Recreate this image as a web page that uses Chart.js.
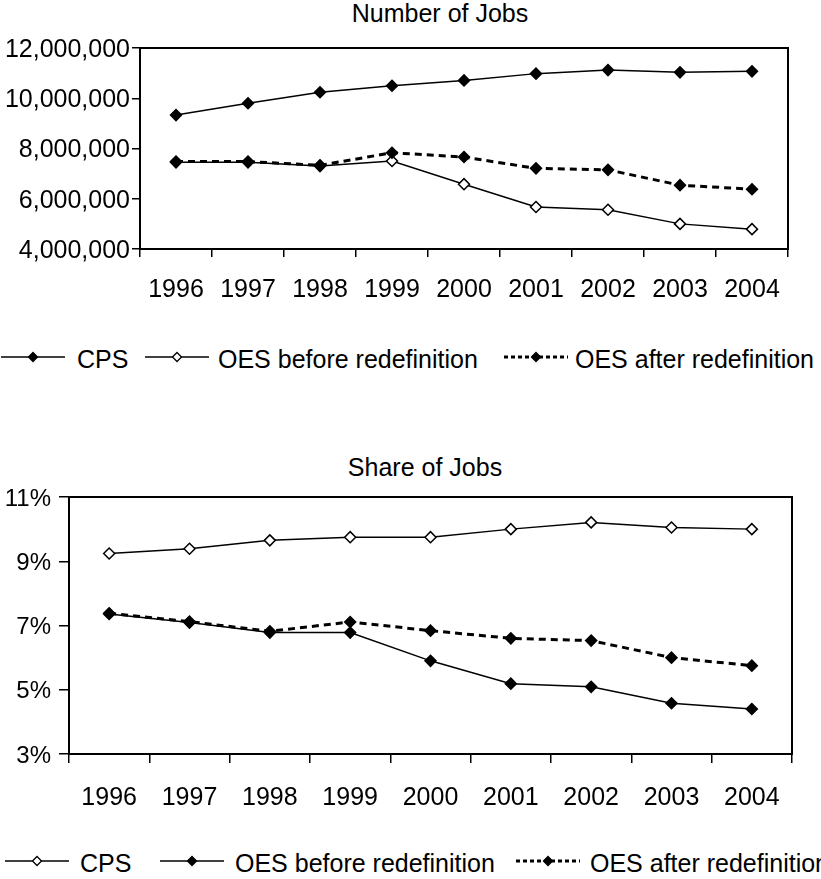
<!DOCTYPE html>
<html><head><meta charset="utf-8">
<script src="https://cdn.jsdelivr.net/npm/chart.js@4.4.0/dist/chart.umd.min.js"></script>
<style>
html,body{margin:0;padding:0;background:#fff;width:821px;height:879px;overflow:hidden;font-family:"Liberation Sans",Arial,sans-serif;color:#000;}
canvas{position:absolute;left:0;}
.title{position:absolute;font-size:25px;line-height:25px;white-space:nowrap;transform:translateX(-50%);}
.ltxt{position:absolute;font-size:25px;line-height:25px;white-space:nowrap;}
.lsym{position:absolute;}
</style></head>
<body>
<div class="title" style="left:440px;top:1px;">Number of Jobs</div>
<canvas id="c1" width="821" height="320" style="top:0px"></canvas>
<div id="leg1"></div>
<div class="title" style="left:425px;top:455px;">Share of Jobs</div>
<canvas id="c2" width="821" height="390" style="top:440px"></canvas>
<div id="leg2"></div>
<script>
const years = ['1996','1997','1998','1999','2000','2001','2002','2003','2004'];
// Number of Jobs
const jobsCPS       = [9330000, 9800000, 10240000, 10500000, 10710000, 10980000, 11120000, 11030000, 11070000];
const jobsOESBefore = [7450000, 7450000, 7300000, 7500000, 6580000, 5670000, 5560000, 5000000, 4790000];
const jobsOESAfter  = [7480000, 7480000, 7330000, 7830000, 7660000, 7210000, 7150000, 6540000, 6380000];
// Share of Jobs (%)
const shareCPS       = [9.24, 9.39, 9.65, 9.75, 9.75, 10.00, 10.21, 10.05, 10.00];
const shareOESBefore = [7.36, 7.09, 6.78, 6.78, 5.90, 5.19, 5.09, 4.58, 4.40];
const shareOESAfter  = [7.38, 7.12, 6.82, 7.11, 6.84, 6.60, 6.53, 6.00, 5.75];
// axis ranges
const jobsMin = 4000000, jobsMax = 12000000, jobsStep = 2000000;
const shareMin = 3, shareMax = 11, shareStep = 2;
const seriesNames = ['CPS', 'OES before redefinition', 'OES after redefinition'];

const FONT = '"Liberation Sans", Arial, sans-serif';

const framePlugin = {
  id: 'frame',
  afterDatasetsDraw(chart) {
    const a = chart.chartArea, c = chart.ctx;
    c.save();
    c.strokeStyle = '#000';
    c.lineWidth = 2;
    c.strokeRect(a.left, a.top, a.right - a.left, a.bottom - a.top);
    c.restore();
  }
};

function ds(label, data, filled, dashed, order) {
  return {
    label, data, order,
    borderColor: '#000',
    borderWidth: dashed ? 3 : 1.5,
    borderDash: dashed ? [7, 5] : [],
    fill: false,
    tension: 0,
    pointStyle: 'rectRot',
    pointRadius: 5.5,
    pointBorderWidth: 1.5,
    pointBorderColor: '#000',
    pointBackgroundColor: filled ? '#000' : '#fff'
  };
}

function makeChart(id, datasets, cfg) {
  return new Chart(document.getElementById(id), {
    type: 'line',
    data: { labels: years, datasets },
    options: {
      responsive: false,
      animation: false,
      events: [],
      layout: { padding: cfg.padding },
      plugins: { legend: { display: false }, tooltip: { enabled: false }, title: { display: false } },
      scales: {
        x: {
          offset: true,
          grid: { offset: true, drawOnChartArea: false, drawTicks: true, tickLength: cfg.xTick, color: '#000', lineWidth: 1.5 },
          border: { display: false },
          ticks: { color: '#000', font: { family: FONT, size: 25 }, padding: cfg.xPad, maxRotation: 0, autoSkip: false },
          afterFit(s) { s.height = cfg.xHeight; }
        },
        y: {
          min: cfg.min, max: cfg.max,
          grid: { drawOnChartArea: false, drawTicks: true, tickLength: cfg.yTick, color: '#000', lineWidth: 1.5 },
          border: { display: false },
          ticks: { stepSize: cfg.step, color: '#000', font: { family: FONT, size: cfg.yFont }, padding: cfg.yPad, labelOffset: 2, callback: cfg.fmt },
          afterFit(s) { s.width = cfg.yWidth; }
        }
      }
    },
    plugins: [framePlugin]
  });
}

makeChart('c1', [
  ds(seriesNames[0], jobsCPS, true, false, 1),
  ds(seriesNames[1], jobsOESBefore, false, false, 2),
  ds(seriesNames[2], jobsOESAfter, true, true, 0)
], {
  padding: { top: 48, right: 33, left: 0, bottom: 0 },
  xHeight: 71, xTick: 8, xPad: 18,
  yWidth: 140, yTick: 8, yPad: 2, yFont: 25,
  min: jobsMin, max: jobsMax, step: jobsStep,
  fmt: v => Number(v).toLocaleString('en-US')
});

makeChart('c2', [
  ds(seriesNames[0], shareCPS, false, false, 1),
  ds(seriesNames[1], shareOESBefore, true, false, 2),
  ds(seriesNames[2], shareOESAfter, true, true, 0)
], {
  padding: { top: 57, right: 29, left: 0, bottom: 0 },
  xHeight: 76, xTick: 9, xPad: 20,
  yWidth: 69, yTick: 10, yPad: 8, yFont: 24,
  min: shareMin, max: shareMax, step: shareStep,
  fmt: v => v + '%'
});

function symbol(left, top, filled, dashed) {
  const w = 64, h = 14, cy = 7, cx = w / 2, r = 4.5;
  const line = dashed
    ? `<line x1="0" y1="${cy}" x2="${w}" y2="${cy}" stroke="#000" stroke-width="3" stroke-dasharray="4 3"/>`
    : `<line x1="0" y1="${cy}" x2="${w}" y2="${cy}" stroke="#000" stroke-width="1.5"/>`;
  const dia = `<polygon points="${cx - r},${cy} ${cx},${cy - r} ${cx + r},${cy} ${cx},${cy + r}" fill="${filled ? '#000' : '#fff'}" stroke="#000" stroke-width="1.3"/>`;
  return `<svg class="lsym" style="left:${left}px;top:${top}px" width="${w}" height="${h}">${line}${dia}</svg>`;
}
function legend(el, y, items) {
  let html = '';
  items.forEach(it => {
    html += symbol(it.sx, y - 7, it.filled, it.dashed);
    html += `<div class="ltxt" style="left:${it.tx}px;top:${y - 10}px">${it.label}</div>`;
  });
  document.getElementById(el).innerHTML = html;
}
legend('leg1', 357, [
  { sx: 1, tx: 77, label: seriesNames[0], filled: true, dashed: false },
  { sx: 145, tx: 218, label: seriesNames[1], filled: false, dashed: false },
  { sx: 504, tx: 575, label: seriesNames[2], filled: true, dashed: true }
]);
legend('leg2', 861, [
  { sx: 5, tx: 80, label: seriesNames[0], filled: false, dashed: false },
  { sx: 160, tx: 235, label: seriesNames[1], filled: true, dashed: false },
  { sx: 516, tx: 590, label: seriesNames[2], filled: true, dashed: true }
]);
</script>
</body></html>
